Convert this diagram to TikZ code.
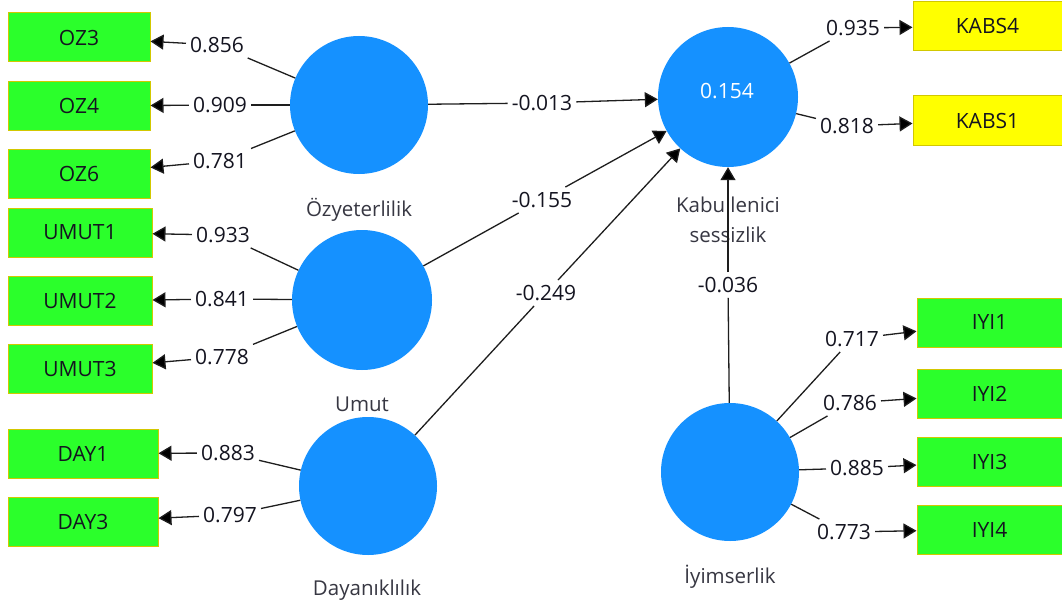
\documentclass[tikz,border=0pt]{standalone}
\usepackage{fontspec}
\setmainfont{Open Sans}
\usetikzlibrary{arrows.meta}
\definecolor{lvblue}{HTML}{1591FF}
\definecolor{indgreen}{HTML}{2BFF2B}
\definecolor{indyellow}{HTML}{FFFF00}
\definecolor{bordy}{HTML}{D2C800}
\definecolor{linec}{HTML}{1E1E1E}
\definecolor{txt}{HTML}{141420}
\tikzset{
  ind/.style={draw=bordy, line width=1pt, fill=indgreen, minimum height=49pt, inner sep=0pt, font=\fontsize{21}{25}\selectfont, text=txt},
  indy/.style={ind, fill=indyellow},
  lv/.style={circle, fill=lvblue, inner sep=0pt},
  coef/.style={inner xsep=4pt, inner ysep=5pt, font=\fontsize{21}{25}\selectfont, text=txt},
  lvname/.style={font=\fontsize{20.5}{24}\selectfont, text=txt!85, align=center},
  link/.style={draw=linec, line width=1.3pt},
  arr/.style={link, -{Triangle[length=13pt,width=15pt,fill=black]}},
}
\begin{document}
\begin{tikzpicture}[x=1pt,y=-1pt]
\useasboundingbox (0,0) rectangle (1062,607);
\fill[white] (0,0) rectangle (1062,607);

% indicator boxes
\node[ind, minimum width=142pt] (oz3) at (79,37.5) {OZ3};
\node[ind, minimum width=142pt] (oz4) at (79,106) {OZ4};
\node[ind, minimum width=142pt] (oz6) at (79,174) {OZ6};
\node[ind, minimum width=144pt] (um1) at (80,232.5) {UMUT1};
\node[ind, minimum width=144pt] (um2) at (80,301) {UMUT2};
\node[ind, minimum width=144pt] (um3) at (80,369) {UMUT3};
\node[ind, minimum width=150pt] (day1) at (83,453.5) {DAY1};
\node[ind, minimum width=150pt] (day3) at (83,521.5) {DAY3};
\node[indy, minimum width=149pt] (kabs4) at (987.5,26.5) {KABS4};
\node[indy, minimum width=149pt] (kabs1) at (987.5,120.5) {KABS1};
\node[ind, minimum width=145pt] (iyi1) at (989.5,322.5) {IYI1};
\node[ind, minimum width=145pt] (iyi2) at (989.5,393.5) {IYI2};
\node[ind, minimum width=145pt] (iyi3) at (989.5,461.5) {IYI3};
\node[ind, minimum width=145pt] (iyi4) at (989.5,529.5) {IYI4};

% latent variables
\node[lv, minimum size=138pt] (oz) at (359,105) {};
\node[lv, minimum size=140pt] (um) at (362,300) {};
\node[lv, minimum size=138pt] (day) at (368,486) {};
\node[lv, minimum size=140pt] (kab) at (728,97) {};
\node[lv, minimum size=138pt] (iyi) at (730,472) {};
\node[font=\fontsize{21}{25}\selectfont, text=white] (r2) at (727,91) {0.154};

% latent names
\node[lvname] (nOz) at (359,210) {Özyeterlilik};
\node[lvname] (nUm) at (362,404) {Umut};
\node[lvname] (nDay) at (367,590) {Dayanıklılık};
\node[lvname] (nKab1) at (728,205) {Kabullenici};
\node[lvname] (nKab2) at (728,235) {sessizlik};
\node[lvname] (nIyi) at (730,577) {İyimserlik};

% outer loadings labels
\node[coef] (c1) at (217,45) {0.856};
\node[coef] (c2) at (220,105) {0.909};
\node[coef] (c3) at (220,161) {0.781};
\node[coef] (c4) at (223,235) {0.933};
\node[coef] (c5) at (222,299) {0.841};
\node[coef] (c6) at (222,357) {0.778};
\node[coef] (c7) at (228,453) {0.883};
\node[coef] (c8) at (230,515) {0.797};
\node[coef] (c9) at (853,28) {0.935};
\node[coef] (c10) at (847,126) {0.818};
\node[coef] (c11) at (852,339) {0.717};
\node[coef] (c12) at (850,403) {0.786};
\node[coef] (c13) at (857,468) {0.885};
\node[coef] (c14) at (844,532) {0.773};

% path coefficients
\node[coef] (p1) at (542,103) {-0.013};
\node[coef] (p2) at (542,200) {-0.155};
\node[coef] (p3) at (546,293) {-0.249};
\node[coef] (p4) at (728,285) {-0.036};

% measurement links
\draw[link] (oz) -- (c1); \draw[arr] (c1) -- (oz3);
\draw[link] (oz) -- (c2); \draw[arr] (c2) -- (oz4);
\draw[link] (oz) -- (c3); \draw[arr] (c3) -- (oz6);
\draw[link] (um) -- (c4); \draw[arr] (c4) -- (um1);
\draw[link] (um) -- (c5); \draw[arr] (c5) -- (um2);
\draw[link] (um) -- (c6); \draw[arr] (c6) -- (um3);
\draw[link] (day) -- (c7); \draw[arr] (c7) -- (day1);
\draw[link] (day) -- (c8); \draw[arr] (c8) -- (day3);
\draw[link] (kab) -- (c9); \draw[arr] (c9) -- (kabs4);
\draw[link] (kab) -- (c10); \draw[arr] (c10) -- (kabs1);
\draw[link] (iyi) -- (c11); \draw[arr] (c11) -- (iyi1);
\draw[link] (iyi) -- (c12); \draw[arr] (c12) -- (iyi2);
\draw[link] (iyi) -- (c13); \draw[arr] (c13) -- (iyi3);
\draw[link] (iyi) -- (c14); \draw[arr] (c14) -- (iyi4);

% structural links
\draw[link] (oz) -- (p1); \draw[arr] (p1) -- (kab);
\draw[link] (um) -- (p2); \draw[arr] (p2) -- (kab);
\draw[link] (day) -- (p3); \draw[arr] (p3) -- (kab);
\draw[link] (iyi) -- (p4); \draw[arr] (p4) -- (kab);
\end{tikzpicture}
\end{document}
